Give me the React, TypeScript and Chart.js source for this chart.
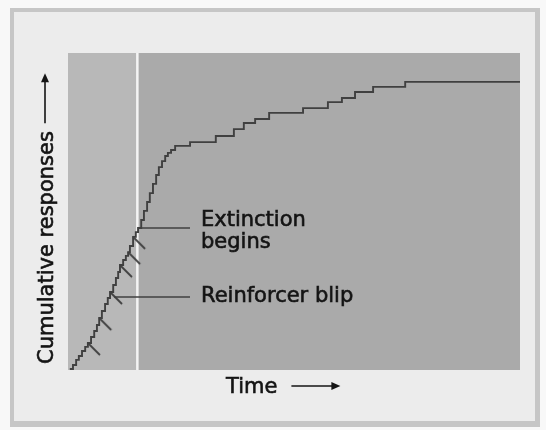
import React, { useEffect, useRef } from "react";
import { Chart, registerables } from "chart.js";

Chart.register(...registerables);

// ---- Data (time units 0..100, cumulative responses 0..100) ----
const curveTime = [
  0.4, 1.1, 1.8, 2.4, 3.1, 3.8, 4.4, 5.1, 5.8, 6.4, 6.9, 7.5, 8.2, 8.8, 9.3,
  10.0, 10.6, 11.1, 11.5, 12.2, 12.8, 13.3, 13.7, 14.4, 15.0, 15.5, 16.2, 16.8,
  17.5, 18.1, 18.8, 19.5, 20.1, 20.8, 21.5, 22.1, 22.8, 23.7, 27.0, 32.7, 36.7,
  38.9, 41.4, 44.5, 52.0, 57.5, 60.6, 63.5, 67.5, 74.6, 100,
];
const curveResponses = [
  0.3, 1.6, 3.2, 4.4, 6.0, 7.3, 8.5, 10.4, 12.3, 14.2, 16.4, 18.6, 20.8, 22.7,
  24.6, 26.8, 29.0, 30.9, 33.1, 34.7, 36.0, 37.2, 39.1, 42.0, 43.5, 44.8, 47.3,
  50.2, 53.0, 55.8, 58.7, 61.5, 64.0, 65.9, 67.5, 68.5, 69.4, 70.7, 71.9, 73.8,
  76.0, 77.9, 79.2, 81.1, 82.6, 84.5, 85.8, 87.7, 89.3, 90.9, 90.9,
];
const blipTime = [4.4, 6.9, 9.3, 11.5, 13.3, 14.4];
const blipResponses = [8.5, 16.4, 24.6, 33.1, 37.2, 42.0];
const extinctionTime = 15.4;
const extinctionResponses = 44.8;
const pointedBlipIndex = 2;

const yAxisLabel = "Cumulative responses";
const xAxisLabel = "Time";
const extinctionLabel = ["Extinction", "begins"];
const blipLabel = "Reinforcer blip";

const FONT = '21px "DejaVu Sans", sans-serif';
const INK = "#141414";
const LINE = "#404040";

function makeBlipGlyph(): HTMLCanvasElement {
  const c = document.createElement("canvas");
  c.width = 28;
  c.height = 28;
  const g = c.getContext("2d")!;
  g.strokeStyle = LINE;
  g.lineWidth = 1.8;
  g.lineCap = "butt";
  g.beginPath();
  g.moveTo(14, 14);
  g.lineTo(26, 26);
  g.stroke();
  return c;
}

function heavyText(ctx: CanvasRenderingContext2D, s: string, x: number, y: number) {
  ctx.fillText(s, x, y);
  ctx.strokeText(s, x, y);
}

const framePlugin = {
  id: "frame",
  beforeDraw(chart: any) {
    const ctx = chart.ctx as CanvasRenderingContext2D;
    const { left, right, top, bottom } = chart.chartArea;
    ctx.save();
    ctx.fillStyle = "#f8f8f8";
    ctx.fillRect(0, 0, chart.width, chart.height);
    ctx.fillStyle = "#c6c6c6";
    ctx.fillRect(10, 8, 530, 419);
    ctx.fillStyle = "#ececec";
    ctx.fillRect(14, 12, 521, 409);
    const xe = chart.scales.x.getPixelForValue(extinctionTime);
    ctx.fillStyle = "#b8b8b8";
    ctx.fillRect(left, top, xe - left, bottom - top);
    ctx.fillStyle = "#aaaaaa";
    ctx.fillRect(xe, top, right - xe, bottom - top);
    ctx.fillStyle = "#f4f4f4";
    ctx.fillRect(xe - 1.5, top, 2.5, bottom - top);
    ctx.restore();
  },
  afterDatasetsDraw(chart: any) {
    const ctx = chart.ctx as CanvasRenderingContext2D;
    const xs = chart.scales.x;
    const ys = chart.scales.y;
    ctx.save();
    // pointer lines
    ctx.strokeStyle = LINE;
    ctx.lineWidth = 1.7;
    const ex = xs.getPixelForValue(extinctionTime);
    const ey = ys.getPixelForValue(extinctionResponses);
    ctx.beginPath();
    ctx.moveTo(ex + 2, ey);
    ctx.lineTo(190, ey);
    const bx = xs.getPixelForValue(blipTime[pointedBlipIndex]);
    const by = ys.getPixelForValue(blipResponses[pointedBlipIndex]);
    ctx.moveTo(bx + 4, by + 5);
    ctx.lineTo(190, by + 5);
    ctx.stroke();

    // annotation text
    ctx.fillStyle = INK;
    ctx.strokeStyle = INK;
    ctx.lineWidth = 0.6;
    ctx.font = FONT;
    ctx.textAlign = "left";
    ctx.textBaseline = "alphabetic";
    heavyText(ctx, extinctionLabel[0], 201, 226);
    heavyText(ctx, extinctionLabel[1], 201, 248);
    heavyText(ctx, blipLabel, 201, 302);

    // x axis label + arrow
    heavyText(ctx, xAxisLabel, 226, 393);
    const tw = ctx.measureText(xAxisLabel).width;
    const ax0 = 226 + tw + 14;
    const ay = 386;
    ctx.lineWidth = 1.6;
    ctx.beginPath();
    ctx.moveTo(ax0, ay);
    ctx.lineTo(ax0 + 42, ay);
    ctx.stroke();
    ctx.beginPath();
    ctx.moveTo(ax0 + 49, ay);
    ctx.lineTo(ax0 + 40, ay - 4);
    ctx.lineTo(ax0 + 40, ay + 4);
    ctx.closePath();
    ctx.fill();

    // y axis label + arrow (rotated)
    ctx.save();
    ctx.translate(53, 364);
    ctx.rotate(-Math.PI / 2);
    ctx.lineWidth = 0.6;
    heavyText(ctx, yAxisLabel, 0, 0);
    const yw = ctx.measureText(yAxisLabel).width;
    const l0 = yw + 8;
    const my = -8;
    ctx.lineWidth = 1.6;
    ctx.beginPath();
    ctx.moveTo(l0, my);
    ctx.lineTo(l0 + 42, my);
    ctx.stroke();
    ctx.beginPath();
    ctx.moveTo(l0 + 50, my);
    ctx.lineTo(l0 + 41, my - 4);
    ctx.lineTo(l0 + 41, my + 4);
    ctx.closePath();
    ctx.fill();
    ctx.restore();

    ctx.restore();
  },
};

export default function App() {
  const ref = useRef<HTMLCanvasElement | null>(null);

  useEffect(() => {
    if (!ref.current) return;
    const curve = curveTime.map((t, i) => ({ x: t, y: curveResponses[i] }));
    const blips = blipTime.map((t, i) => ({ x: t, y: blipResponses[i] }));
    const glyph = makeBlipGlyph();
    const chart = new Chart(ref.current, {
      type: "line",
      data: {
        datasets: [
          {
            data: blips,
            showLine: false,
            pointStyle: glyph as any,
            pointRadius: 3,
            pointHoverRadius: 3,
            borderColor: LINE,
            backgroundColor: LINE,
          },
          {
            data: curve,
            stepped: "before",
            borderColor: LINE,
            borderWidth: 1.9,
            pointRadius: 0,
            fill: false,
          },
        ],
      },
      options: {
        animation: false,
        responsive: false,
        events: [],
        layout: { padding: { left: 68, right: 26, top: 53, bottom: 60 } },
        plugins: { legend: { display: false }, tooltip: { enabled: false } },
        scales: {
          x: { type: "linear", min: 0, max: 100, display: false },
          y: { type: "linear", min: 0, max: 100, display: false },
        },
      },
      plugins: [framePlugin],
    });
    return () => chart.destroy();
  }, []);

  return (
    <div style={{ position: "absolute", left: 0, top: 0, width: 546, height: 430 }}>
      <canvas ref={ref} width={546} height={430} style={{ width: 546, height: 430, display: "block" }} />
    </div>
  );
}
